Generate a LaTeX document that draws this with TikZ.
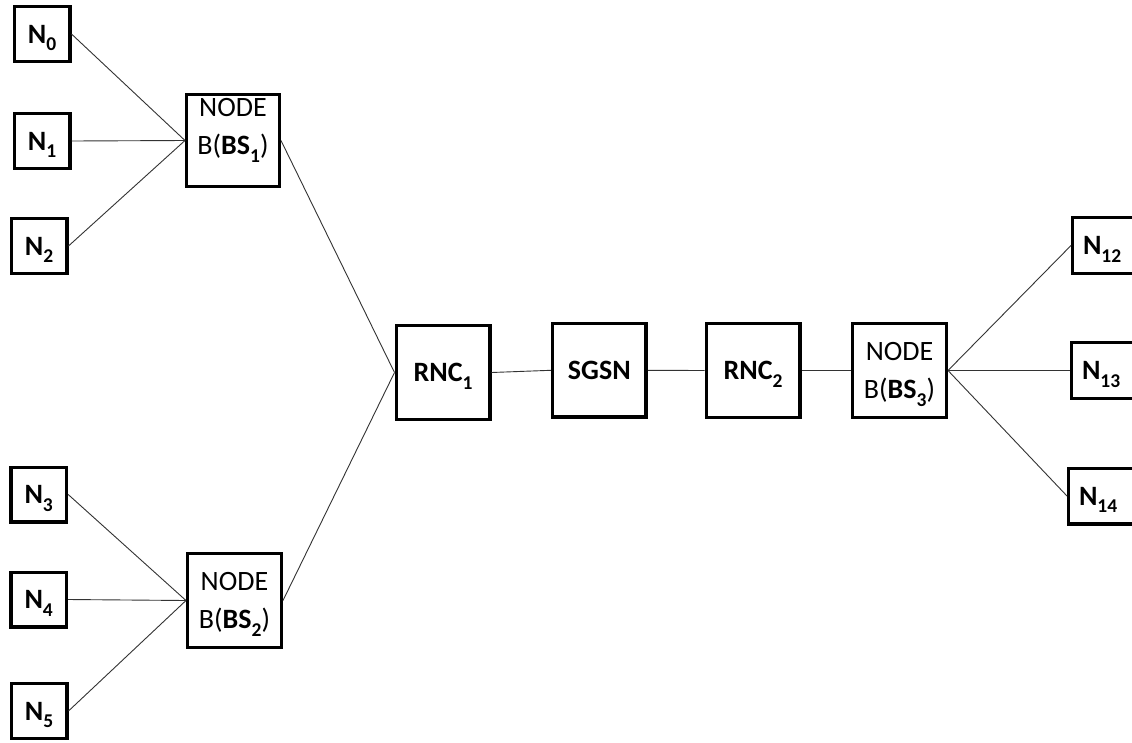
\documentclass[tikz,border=0pt]{standalone}
\usepackage{fontspec}
\setmainfont{Carlito}
\newcommand{\subidx}[1]{\raisebox{-0.27em}{\fontsize{19.5}{19.5}\selectfont #1}}
\begin{document}
\begin{tikzpicture}[x=1pt,y=-1pt,
  every node/.style={font=\fontsize{28}{38.5}\selectfont},
  box/.style={draw=black, line width=3.4pt, inner sep=0pt, text depth=0pt, align=center},
  nbox/.style={box, minimum width=55.6pt, minimum height=54.6pt, font=\fontsize{28}{38.5}\selectfont\bfseries},
  rbox/.style={box, anchor=west, minimum height=55.6pt, text width=60pt, align=left, inner xsep=10.3pt, font=\fontsize{28}{38.5}\selectfont\bfseries},
  bigbox/.style={box, minimum width=93.6pt, minimum height=93.6pt},
  link/.style={draw=black!80, line width=0.9pt}
]
\path[fill=white, use as bounding box] (0,0) rectangle (1132,742);
\clip (0,0) rectangle (1132,742);

% left end nodes
\node[nbox] (n0) at (42,34) {N\subidx{0}};
\node[nbox] (n1) at (42,141) {N\subidx{1}};
\node[nbox] (n2) at (39,246) {N\subidx{2}};
\node[nbox] (n3) at (38.7,494.5) {N\subidx{3}};
\node[nbox] (n4) at (38.7,599.5) {N\subidx{4}};
\node[nbox] (n5) at (39,711) {N\subidx{5}};

% base stations
\node[bigbox, minimum width=92.6pt, minimum height=91.6pt] (bs1) at (233,140.5) {};
\node[anchor=north, inner sep=0pt, align=center] (bs1t) at ([yshift=-5pt]bs1.north) {NODE\\B(\textbf{BS\subidx{1}})};
\node[bigbox] (bs2) at (234.5,600.5) {NODE\\B(\textbf{BS\subidx{2}})};

% core chain
\node[bigbox, font=\fontsize{28}{38.5}\selectfont\bfseries] (rnc1) at (443,372.5) {RNC\subidx{1}};
\node[bigbox, font=\fontsize{28}{38.5}\selectfont\bfseries] (sgsn) at (599.3,370.3) {SGSN};
\node[bigbox, font=\fontsize{28}{38.5}\selectfont\bfseries] (rnc2) at (753,370.5) {RNC\subidx{2}};
\node[bigbox] (bs3) at (899.5,370.5) {NODE\\B(\textbf{BS\subidx{3}})};

% right end nodes
\node[rbox] (n12) at (1071,245.5) {N\subidx{12}};
\node[rbox] (n13) at (1070,370.5) {N\subidx{13}};
\node[rbox] (n14) at (1067,496) {N\subidx{14}};

% connectors
\draw[link] (n0.east) -- (bs1.west);
\draw[link] (n1.east) -- (bs1.west);
\draw[link] (n2.east) -- (bs1.west);
\draw[link] (n3.east) -- (bs2.west);
\draw[link] (n4.east) -- (bs2.west);
\draw[link] (n5.east) -- (bs2.west);
\draw[link] (bs1.east) -- (rnc1.west);
\draw[link] (bs2.east) -- (rnc1.west);
\draw[link] (rnc1.east) -- (sgsn.west);
\draw[link] (sgsn.east) -- (rnc2.west);
\draw[link] (rnc2.east) -- (bs3.west);
\draw[link] (bs3.east) -- (n12.west);
\draw[link] (bs3.east) -- (n13.west);
\draw[link] (bs3.east) -- (n14.west);
\end{tikzpicture}
\end{document}
